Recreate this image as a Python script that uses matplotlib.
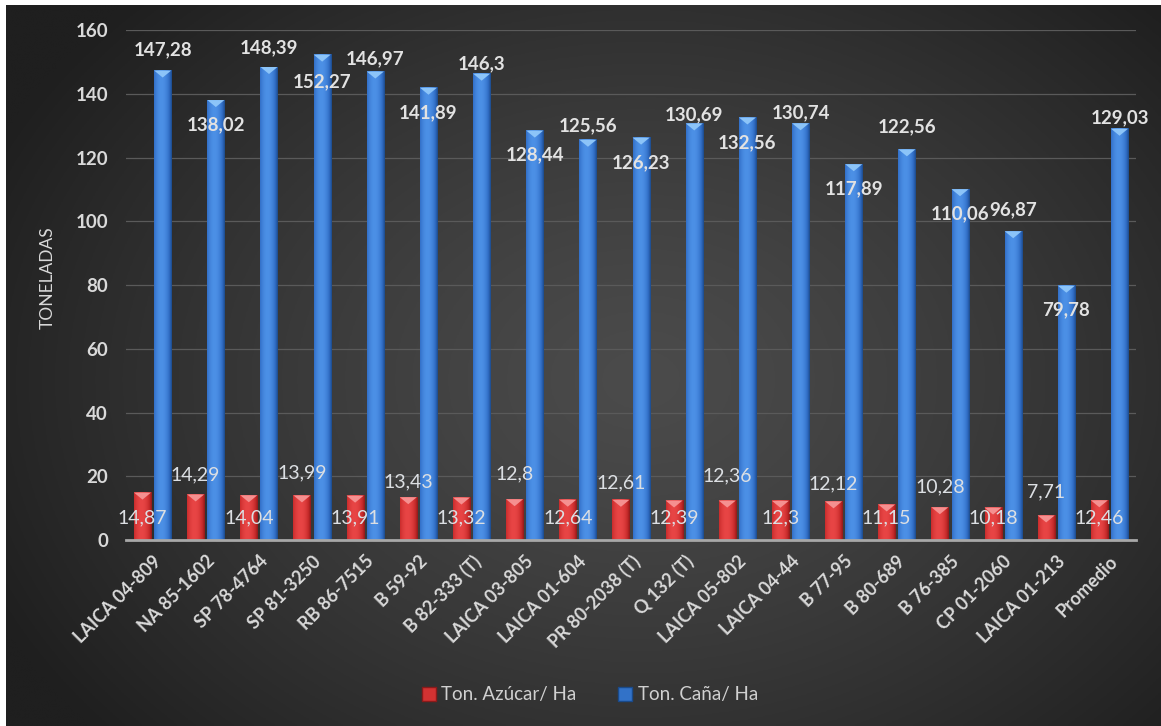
import numpy as np
import matplotlib
matplotlib.use("Agg")
import matplotlib.pyplot as plt
from matplotlib.colors import LinearSegmentedColormap
from matplotlib.patches import Polygon, Patch

plt.rcParams["font.family"] = ["Lato", "DejaVu Sans"]

# --- data -------------------------------------------------------------
variedades = [
    "LAICA 04-809", "NA 85-1602", "SP 78-4764", "SP 81-3250", "RB 86-7515",
    "B 59-92", "B 82-333 (T)", "LAICA 03-805", "LAICA 01-604", "PR 80-2038 (T)",
    "Q 132 (T)", "LAICA 05-802", "LAICA 04-44", "B 77-95", "B 80-689",
    "B 76-385", "CP 01-2060", "LAICA 01-213", "Promedio",
]
ton_azucar = [14.87, 14.29, 14.04, 13.99, 13.91, 13.43, 13.32, 12.8, 12.64,
              12.61, 12.39, 12.36, 12.3, 12.12, 11.15, 10.28, 10.18, 7.71, 12.46]
ton_cana = [147.28, 138.02, 148.39, 152.27, 146.97, 141.89, 146.3, 128.44,
            125.56, 126.23, 130.69, 132.56, 130.74, 117.89, 122.56, 110.06,
            96.87, 79.78, 129.03]
y_ticks = [0, 20, 40, 60, 80, 100, 120, 140, 160]
series_names = ["Ton. Azúcar/ Ha", "Ton. Caña/ Ha"]

# label placement (pixels below the bar top; negative = above)
azucar_label_dy = [25, -20, 23, -23, 22, -15, 20, -25, 18, -17,
                   17, -25, 17, -17, 13, -20, 10, -24, 18]
cana_label_dy = [-21, 25, -19, 27, -13, 25, -10, 24, -14, 25,
                 -9, 25, -11, 25, -23, 25, -21, 24, -11]

TXT = "#d9d9d9"
W, H = 1161, 726


def fmt(v):
    return f"{v:g}".replace(".", ",")


fig = plt.figure(figsize=(W / 100, H / 100), dpi=100, facecolor="white")

# dark radial backdrop
bg = fig.add_axes([6 / W, 0, 1 - 6 / W, 1 - 5 / H], zorder=-5)
gx, gy = np.meshgrid(np.linspace(0, 1, 400), np.linspace(0, 1, 260))
r = np.sqrt(((gx - 0.55) / 0.62) ** 2 + ((gy - 0.52) / 0.75) ** 2)
r = np.clip(r, 0, 1) ** 1.3
c_in = np.array([0x4b, 0x4b, 0x4b]) / 255
c_out = np.array([0x1f, 0x1f, 0x1f]) / 255
img = c_in[None, None, :] * (1 - r[..., None]) + c_out[None, None, :] * r[..., None]
bg.imshow(img, extent=[0, 1, 0, 1], aspect="auto", origin="upper")
bg.set_axis_off()

ax = fig.add_axes([126 / W, 186 / H, 1010 / W, 510 / H])
ax.set_facecolor("none")

bar_w = 0.32
bar_off = 0.19
cap_h = 7 * 160 / 510  # 7 px expressed in data units

prof = np.linspace(0, 1, 64)
prof = np.clip(1 - ((prof - 0.42) / 0.62) ** 2, 0, 1)[None, :]

red_cmap = LinearSegmentedColormap.from_list("red3d", ["#7d1414", "#c62a2a", "#e84545"])
blue_cmap = LinearSegmentedColormap.from_list("blue3d", ["#163f78", "#306cc4", "#4c90e6"])


def shaded_bar(xc, h, cmap, cap_color):
    x0, x1 = xc - bar_w / 2, xc + bar_w / 2
    ax.imshow(prof, extent=[x0, x1, 0, h], cmap=cmap, vmin=0, vmax=1,
              aspect="auto", origin="lower", interpolation="bilinear", zorder=3)
    ax.add_patch(Polygon([(x0, h), (x1, h), (xc, h - cap_h)], closed=True,
                         facecolor=cap_color, edgecolor="none", zorder=4))


for i, (a, c) in enumerate(zip(ton_azucar, ton_cana)):
    shaded_bar(i - bar_off, a, red_cmap, "#f59090")
    shaded_bar(i + bar_off, c, blue_cmap, "#8cc4f8")
    ax.annotate(fmt(a), (i - bar_off, a), xytext=(0, -azucar_label_dy[i]),
                textcoords="offset pixels", ha="center", va="center",
                fontsize=14, color="#dcdfe3", zorder=6)
    ax.annotate(fmt(c), (i + bar_off, c), xytext=(0, -cana_label_dy[i]),
                textcoords="offset pixels", ha="center", va="center",
                fontsize=13.5, fontweight="bold", color="#e2e2e2", zorder=6)

ax.set_xlim(-0.5, len(variedades) - 0.5)
ax.set_ylim(0, 160)

ax.set_yticks(y_ticks)
ax.set_yticklabels([str(t) for t in y_ticks], fontweight="bold", fontsize=13.5, color=TXT)
ax.tick_params(axis="y", length=0, pad=13)
ax.set_xticks(range(len(variedades)))
ax.set_xticklabels(variedades, rotation=45, ha="right", va="top",
                   rotation_mode="anchor", fontweight="bold", fontsize=13, color=TXT)
ax.tick_params(axis="x", length=0, pad=9)

ax.yaxis.grid(True, color="#5a5a5a", lw=0.9)
ax.set_axisbelow(True)
for s in ("left", "right", "top"):
    ax.spines[s].set_visible(False)
ax.spines["bottom"].set_color("#a8a8a8")
ax.spines["bottom"].set_linewidth(2)
ax.spines["bottom"].set_zorder(5)

fig.text(48 / W, 1 - 278 / H, "TONELADAS", rotation=90, ha="center", va="center",
         fontsize=12.5, color=TXT)

handles = [Patch(facecolor="#d23232", edgecolor="#8a1a1a", label=series_names[0]),
           Patch(facecolor="#3272c8", edgecolor="#1a4a8a", label=series_names[1])]
leg = fig.legend(handles=handles, loc="center", bbox_to_anchor=(0.508, 0.043),
                 ncol=2, frameon=False, fontsize=13.5, labelcolor="#d0d0d0",
                 handlelength=0.75, handleheight=0.75, handletextpad=0.3,
                 columnspacing=2.2)

fig.savefig("out.png", dpi=100, facecolor=fig.get_facecolor())
